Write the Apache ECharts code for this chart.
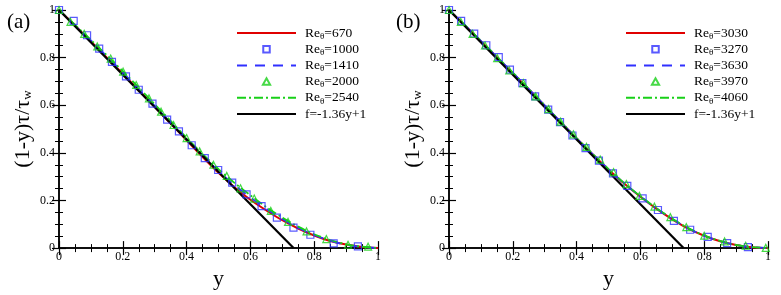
<!DOCTYPE html>
<html><head><meta charset="utf-8">
<script src="https://cdn.jsdelivr.net/npm/echarts@6/dist/echarts.min.js"></script>
<style>html,body{margin:0;padding:0;background:#fff}#c{width:781px;height:295px}</style>
</head><body><div id="c"></div>
<script>
// ---- data (panel a) ----
const a670 = [[0,1],[0.05,0.935],[0.1,0.868],[0.15,0.8],[0.2,0.732],[0.25,0.663],[0.3,0.593],[0.35,0.523],[0.4,0.453],[0.45,0.383],[0.5,0.316],[0.55,0.256],[0.6,0.203],[0.65,0.158],[0.7,0.117],[0.75,0.082],[0.8,0.053],[0.85,0.03],[0.9,0.015],[0.95,0.005],[1.0,0.0]];
const a1000 = [[0,1],[0.046,0.954],[0.088,0.894],[0.126,0.838],[0.166,0.782],[0.21,0.721],[0.25,0.665],[0.293,0.607],[0.339,0.54],[0.376,0.49],[0.416,0.432],[0.457,0.378],[0.499,0.328],[0.543,0.275],[0.588,0.226],[0.635,0.176],[0.683,0.128],[0.735,0.086],[0.788,0.056],[0.861,0.02],[0.937,0.007]];
const a1410 = [[0,1],[0.05,0.935],[0.1,0.872],[0.15,0.805],[0.2,0.737],[0.25,0.667],[0.3,0.597],[0.35,0.527],[0.4,0.456],[0.45,0.388],[0.5,0.323],[0.55,0.265],[0.6,0.213],[0.65,0.165],[0.7,0.122],[0.75,0.085],[0.8,0.055],[0.85,0.031],[0.9,0.014],[0.95,0.005],[1.0,0]];
const a2000 = [[0,1],[0.036,0.95],[0.079,0.9],[0.12,0.847],[0.162,0.796],[0.201,0.741],[0.242,0.685],[0.282,0.629],[0.32,0.573],[0.359,0.517],[0.4,0.462],[0.441,0.406],[0.484,0.35],[0.526,0.303],[0.569,0.251],[0.612,0.208],[0.664,0.156],[0.718,0.11],[0.776,0.07],[0.838,0.038],[0.906,0.014],[0.969,0.006]];
const a2540 = [[0,1],[0.05,0.938],[0.1,0.874],[0.15,0.81],[0.2,0.743],[0.25,0.674],[0.3,0.604],[0.35,0.534],[0.4,0.463],[0.45,0.396],[0.5,0.332],[0.55,0.274],[0.6,0.222],[0.65,0.172],[0.7,0.128],[0.75,0.09],[0.8,0.058],[0.85,0.034],[0.9,0.016],[0.95,0.006],[1.0,0.0]];
// ---- data (panel b) ----
const b3030 = [[0,1],[0.05,0.935],[0.1,0.869],[0.15,0.802],[0.2,0.735],[0.25,0.667],[0.3,0.598],[0.35,0.529],[0.4,0.46],[0.45,0.394],[0.5,0.33],[0.55,0.27],[0.6,0.216],[0.65,0.166],[0.7,0.121],[0.75,0.082],[0.8,0.052],[0.85,0.029],[0.9,0.013],[0.95,0.004],[1.0,0]];
const b3270 = [[0,1],[0.038,0.954],[0.079,0.901],[0.117,0.852],[0.156,0.802],[0.191,0.75],[0.23,0.693],[0.27,0.637],[0.311,0.582],[0.348,0.529],[0.387,0.473],[0.428,0.42],[0.47,0.367],[0.514,0.314],[0.559,0.261],[0.607,0.209],[0.655,0.16],[0.705,0.114],[0.756,0.077],[0.811,0.047],[0.872,0.021],[0.937,0.004]];
const b3630 = [[0,1],[0.05,0.936],[0.1,0.87],[0.15,0.803],[0.2,0.736],[0.25,0.668],[0.3,0.599],[0.35,0.53],[0.4,0.461],[0.45,0.395],[0.5,0.331],[0.55,0.271],[0.6,0.217],[0.65,0.167],[0.7,0.122],[0.75,0.083],[0.8,0.052],[0.85,0.029],[0.9,0.013],[0.95,0.004],[1.0,0]];
const b3970 = [[0,1],[0.037,0.95],[0.074,0.9],[0.113,0.851],[0.151,0.798],[0.189,0.746],[0.233,0.693],[0.272,0.637],[0.312,0.584],[0.35,0.531],[0.39,0.478],[0.431,0.425],[0.474,0.372],[0.516,0.319],[0.556,0.269],[0.597,0.219],[0.644,0.174],[0.694,0.13],[0.744,0.088],[0.8,0.052],[0.864,0.028],[0.93,0.01],[0.993,0.001]];
const b4060 = [[0,1],[0.05,0.936],[0.1,0.871],[0.15,0.804],[0.2,0.737],[0.25,0.669],[0.3,0.6],[0.35,0.531],[0.4,0.462],[0.45,0.396],[0.5,0.332],[0.55,0.272],[0.6,0.218],[0.65,0.168],[0.7,0.123],[0.75,0.084],[0.8,0.053],[0.85,0.03],[0.9,0.013],[0.95,0.004],[1.0,0]];
const fitLine = [[0,1],[0.7353,0]];
const namesA = ['670','1000','1410','2000','2540'];
const namesB = ['3030','3270','3630','3970','4060'];
const fitName = 'f=-1.36y+1';

const RED='#e00000', BLUE='#3030ff', GREEN='#18d018';
const FONT='Liberation Serif';
const chart = echarts.init(document.getElementById('c'));

function fmtTick(v){ return v===0||v===1 ? String(v) : String(+v.toFixed(1)); }

function axesFor(gi){
  const common = {min:0,max:1,interval:0.2,
    axisLine:{lineStyle:{color:'#000',width:1.5}},
    axisTick:{inside:true,length:7,lineStyle:{color:'#000',width:1.2}},
    minorTick:{show:true,splitNumber:4,length:4,lineStyle:{color:'#000',width:1}},
    splitLine:{show:false}, gridIndex:gi};
  const xs = [
    Object.assign({}, common, {type:'value',position:'bottom',name:'y',nameLocation:'middle',nameGap:6,
      nameTextStyle:{fontFamily:FONT,fontSize:22,color:'#000'},
      axisLabel:{fontFamily:FONT,fontSize:12,color:'#000',margin:3,formatter:fmtTick}}),
    Object.assign({}, common, {type:'value',position:'top',axisLabel:{show:false}})
  ];
  const ys = [
    Object.assign({}, common, {type:'value',position:'left',name:'(1-y)τ/τ{s|w}',nameLocation:'middle',nameGap:25,
      nameTextStyle:{fontFamily:FONT,fontSize:22,color:'#000',rich:{s:{fontFamily:FONT,fontSize:13,color:'#000',verticalAlign:'bottom',lineHeight:22,padding:[0,0,0,0]}}},
      axisLabel:{fontFamily:FONT,fontSize:12,color:'#000',margin:4,formatter:fmtTick}}),
    Object.assign({}, common, {type:'value',position:'right',axisLabel:{show:false}})
  ];
  return {xs, ys};
}
const A0 = axesFor(0), A1 = axesFor(1);

function lineS(name,data,xi,yi,color,type,w){
  return {name,type:'line',data,xAxisIndex:xi,yAxisIndex:yi,showSymbol:false,symbol:'none',smooth:0.3,
    lineStyle:{color,width:w,type},itemStyle:{color},z:2,animation:false};
}
function scatS(name,data,xi,yi,color,sym){
  return {name,type:'scatter',data,xAxisIndex:xi,yAxisIndex:yi,symbol:sym,symbolSize:7,
    itemStyle:{color:'rgba(255,255,255,0)',borderColor:color,borderWidth:1.2},z:3,animation:false};
}
const legendRich = {n:{fontFamily:FONT,fontSize:13.5,color:'#000'},s:{fontFamily:FONT,fontSize:9,color:'#000',padding:[7,0,0,0]}};
function legFmt(name){
  if(name.startsWith('Re_θ=')){ return '{n|Re}{s|θ}{n|='+name.slice(5)+'}'; }
  return '{n|'+name+'}';
}
const SQ='path://M0,0L10,0L10,10L0,10Z', TRI='path://M5,0L10,9L0,9Z';
function legend(left,names){
  const icons=[null,SQ,null,TRI,null];
  const data = names.map((n,i)=> icons[i] ? {name:'Re_θ='+n,icon:icons[i]} : {name:'Re_θ='+n,itemStyle:{opacity:0}})
    .concat([{name:fitName,itemStyle:{opacity:0}}]);
  return {orient:'vertical',left,top:26,padding:0,itemWidth:59,itemHeight:6.5,itemGap:1.2,
    data,formatter:legFmt,
    textStyle:{fontFamily:FONT,fontSize:13.5,color:'#000',rich:legendRich,padding:[0,0,0,4]},selectedMode:false};
}
const dash=[10,8], dashdot=[9,3,2,3];
const series = [
  lineS('Re_θ='+namesA[0],a670,0,0,RED,'solid',2),
  scatS('Re_θ='+namesA[1],a1000,0,0,BLUE,'rect'),
  lineS('Re_θ='+namesA[2],a1410,0,0,BLUE,dash,1.8),
  scatS('Re_θ='+namesA[3],a2000,0,0,GREEN,'triangle'),
  lineS('Re_θ='+namesA[4],a2540,0,0,GREEN,dashdot,1.8),
  lineS(fitName,fitLine,0,0,'#000','solid',2.2),
  lineS('Re_θ='+namesB[0],b3030,2,2,RED,'solid',2),
  scatS('Re_θ='+namesB[1],b3270,2,2,BLUE,'rect'),
  lineS('Re_θ='+namesB[2],b3630,2,2,BLUE,dash,1.8),
  scatS('Re_θ='+namesB[3],b3970,2,2,GREEN,'triangle'),
  lineS('Re_θ='+namesB[4],b4060,2,2,GREEN,dashdot,1.8),
  lineS(fitName,fitLine,2,2,'#000','solid',2.2)
];
series[5].smooth=false; series[11].smooth=false;
chart.setOption({
  backgroundColor:'#fff',
  animation:false,
  grid:[{left:59,top:10,width:319,height:239},{left:449,top:10,width:319,height:239}],
  xAxis:[...A0.xs, ...A1.xs.map(a=>Object.assign(a,{gridIndex:1}))],
  yAxis:[...A0.ys, ...A1.ys.map(a=>Object.assign(a,{gridIndex:1}))],
  legend:[legend(236,namesA),legend(625,namesB)],
  series,
  graphic:[
    {type:'text',left:7,top:12,style:{text:'(a)',font:'21px "Liberation Serif"',fill:'#000'}},
    {type:'text',left:396,top:12,style:{text:'(b)',font:'21px "Liberation Serif"',fill:'#000'}}
  ]
});
</script></body></html>
